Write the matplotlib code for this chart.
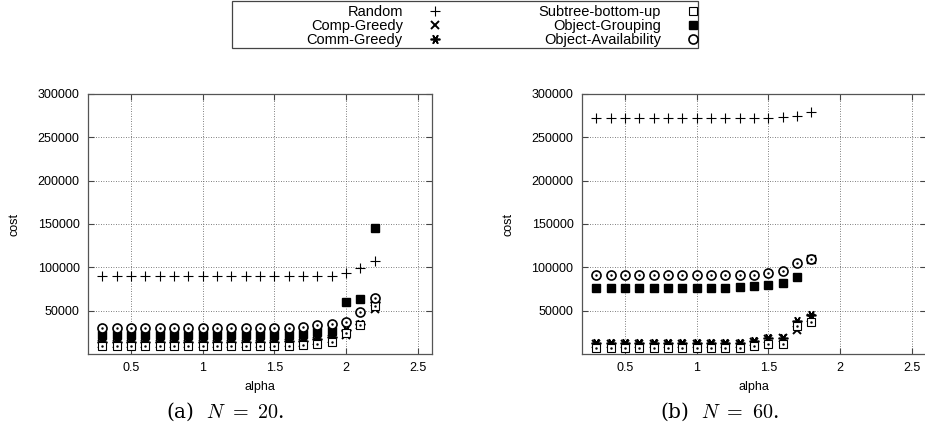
import matplotlib
matplotlib.use("Agg")
import matplotlib.pyplot as plt
from matplotlib.patches import Rectangle

plt.rcParams['font.family'] = ['Liberation Sans', 'DejaVu Sans']
plt.rcParams['mathtext.fontset'] = 'cm'

# (a) N = 20
alpha_a = [0.3, 0.4, 0.5, 0.6, 0.7, 0.8, 0.9, 1.0, 1.1, 1.2,
           1.3, 1.4, 1.5, 1.6, 1.7, 1.8, 1.9, 2.0, 2.1, 2.2]
random_a = [90000, 90000, 90000, 90000, 90000, 90000, 90000, 90000, 90000, 90000,
            90000, 90000, 90000, 90000, 90000, 90000, 90000, 93000, 99000, 107000]
comp_a = [12000, 12000, 12000, 12000, 12000, 12000, 12000, 12000, 12000, 12000,
          12000, 12000, 12000, 12500, 13000, 15000, 17000, 22000, 33000, 52000]
comm_a = [14000, 14000, 14000, 14000, 14000, 14000, 14000, 14000, 14000, 14000,
          14000, 14000, 14000, 14500, 15000, 17000, 20000, 28000, 35000, 60000]
subtree_a = [9000, 9000, 9000, 9000, 9000, 9000, 9000, 9000, 9000, 9000,
             9000, 9000, 9000, 9500, 10000, 12000, 14000, 24000, 33000, 55000]
grouping_a = [22000, 22000, 22000, 22000, 22000, 22000, 22000, 22000, 22000, 22000,
              22000, 22000, 22000, 22000, 23000, 25000, 27000, 60000, 63000, 145000]
avail_a = [30000, 30000, 30000, 30000, 30000, 30000, 30000, 30000, 30000, 30000,
           30000, 30000, 30000, 30000, 31000, 33000, 35000, 37000, 48000, 65000]

# (b) N = 60
alpha_b = [0.3, 0.4, 0.5, 0.6, 0.7, 0.8, 0.9, 1.0, 1.1, 1.2,
           1.3, 1.4, 1.5, 1.6, 1.7, 1.8]
random_b = [272000, 272000, 272000, 272000, 272000, 272000, 272000, 272000,
            272000, 272000, 272000, 272000, 272000, 273000, 274000, 279000]
comp_b = [12000, 12000, 12000, 12000, 12000, 12000, 12000, 12000,
          12000, 12000, 12000, 14000, 17000, 18000, 28000, 42000]
comm_b = [13000, 13000, 13000, 13000, 13000, 13000, 13000, 13000,
          13000, 13000, 13000, 15000, 18000, 19000, 38000, 45000]
subtree_b = [7000, 7000, 7000, 7000, 7000, 7000, 7000, 7000,
             7000, 7000, 7000, 9000, 11000, 12000, 32000, 37000]
grouping_b = [76000, 76000, 76000, 76000, 76000, 76000, 76000, 76000,
              76000, 76000, 77000, 78000, 79000, 82000, 89000, 109000]
avail_b = [91000, 91000, 91000, 91000, 91000, 91000, 91000, 91000,
           91000, 91000, 91000, 91000, 93000, 96000, 105000, 110000]

labels = ["Random", "Comp-Greedy", "Comm-Greedy",
          "Subtree-bottom-up", "Object-Grouping", "Object-Availability"]
xticks = [0.5, 1, 1.5, 2, 2.5]
xtick_labels = ["0.5", "1", "1.5", "2", "2.5"]
yticks = [50000, 100000, 150000, 200000, 250000, 300000]

fig = plt.figure(figsize=(9.25, 4.37), dpi=100)
ax_a = fig.add_axes([0.0951, 0.190, 0.372, 0.595])
ax_b = fig.add_axes([0.629, 0.190, 0.372, 0.595])


def draw(ax, x, series):
    rnd, comp, comm, sub, grp, av = series
    h = []
    h += ax.plot(x, rnd, ls='none', marker='+', ms=7, mew=0.8, color='black')
    h += ax.plot(x, comp, ls='none', marker='x', ms=6, mew=1.4, color='black')
    h += ax.plot(x, comm, ls='none', marker=(6, 2, 90), ms=7, mew=1.2, color='black')
    h += ax.plot(x, sub, ls='none', marker='s', ms=5.5, mew=0.8, mfc='white', mec='black')
    ax.plot(x, sub, ls='none', marker='.', ms=1.5, color='black')
    h += ax.plot(x, grp, ls='none', marker='s', ms=6, color='black')
    h += ax.plot(x, av, ls='none', marker='o', ms=6.5, mew=1.2, mfc='white', mec='black')
    ax.plot(x, av, ls='none', marker='.', ms=1.5, color='black')
    ax.set_xlim(0.2, 2.6)
    ax.set_ylim(0, 300000)
    ax.set_xticks(xticks)
    ax.set_xticklabels(xtick_labels)
    ax.set_yticks(yticks)
    ax.grid(True, ls=(0, (1, 2)), color='#555555', lw=0.6)
    ax.tick_params(direction='in', top=True, right=True, length=4,
                   labelsize=9, color='#444444', pad=6)
    for s in ax.spines.values():
        s.set_color('#555555')
        s.set_linewidth(0.9)
    ax.set_xlabel("alpha", fontsize=9, labelpad=5)
    ax.set_ylabel("cost", fontsize=9, labelpad=12)
    return h


handles = draw(ax_a, alpha_a, [random_a, comp_a, comm_a, subtree_a, grouping_a, avail_a])
draw(ax_b, alpha_b, [random_b, comp_b, comm_b, subtree_b, grouping_b, avail_b])

# legend box (gnuplot style, drawn separately from the entries)
fig.patches.append(Rectangle((0.2508, 0.890), 0.5038, 0.108, transform=fig.transFigure,
                             fill=False, edgecolor='#444444', lw=0.9))
fig.legend(handles, labels, ncol=2, markerfirst=False, loc='upper right',
           bbox_to_anchor=(0.757, 0.989), fontsize=10.5, frameon=False,
           borderpad=0, labelspacing=0.0, handletextpad=1.7, columnspacing=6.6,
           handlelength=1.0, borderaxespad=0)

fig.text(0.243, 0.058, r"(a)  $N\ =\ 20$.", ha='center', va='center',
         fontsize=14.5, family='DejaVu Serif', math_fontfamily='cm')
fig.text(0.778, 0.058, r"(b)  $N\ =\ 60$.", ha='center', va='center',
         fontsize=14.5, family='DejaVu Serif', math_fontfamily='cm')

fig.savefig("out.png", dpi=100)
